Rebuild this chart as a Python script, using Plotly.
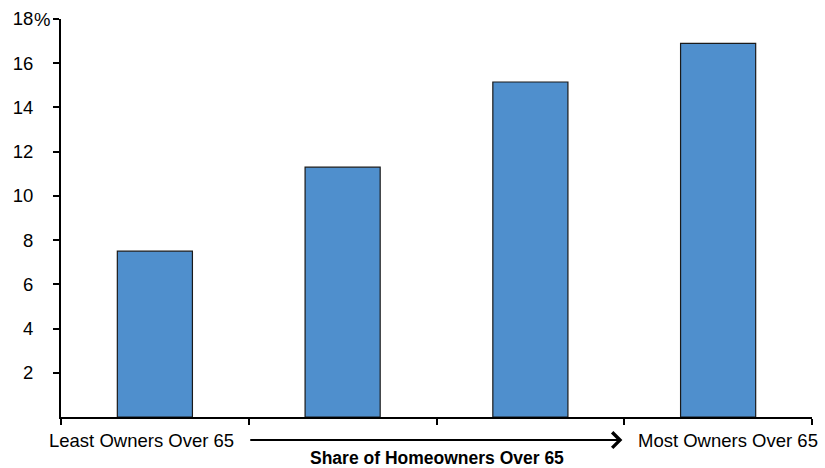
import plotly.graph_objects as go

# Share of homeowners over 65, by quartile (low -> high)
quartiles = [0, 1, 2, 3]
values = [7.5, 11.3, 15.15, 16.9]
y_ticks = [2, 4, 6, 8, 10, 12, 14, 16, 18]
y_tick_text = ["2", "4", "6", "8", "10", "12", "14", "16", "18"]
low_label = "Least Owners Over 65"
high_label = "Most Owners Over 65"
x_title = "Share of Homeowners Over 65"

FONT = "Liberation Sans, Arial, sans-serif"
BAR_COLOR = "#4f8fcd"
LABEL_SIZE = 18.5

fig = go.Figure(
    go.Bar(
        x=quartiles,
        y=values,
        width=0.4,
        marker=dict(color=BAR_COLOR, line=dict(color="#1a1a1a", width=1.2)),
        hoverinfo="y",
    )
)

fig.update_layout(
    width=825,
    height=468,
    margin=dict(l=61, r=13, t=19, b=51),
    paper_bgcolor="white",
    plot_bgcolor="white",
    showlegend=False,
    font=dict(family=FONT, size=LABEL_SIZE, color="black"),
    xaxis=dict(
        range=[-0.5, 3.5],
        tickvals=[-0.5, 0.5, 1.5, 2.5, 3.5],
        ticktext=["", "", "", "", ""],
        ticks="outside",
        ticklen=6,
        tickwidth=2,
        tickcolor="black",
        showline=True,
        linecolor="black",
        linewidth=2,
        showgrid=False,
        zeroline=False,
        automargin=False,
        fixedrange=True,
    ),
    yaxis=dict(
        range=[0, 18],
        tickvals=y_ticks,
        ticktext=y_tick_text,
        ticks="outside",
        ticklen=6,
        tickwidth=2,
        tickcolor="black",
        ticklabelstandoff=16,
        showline=True,
        linecolor="black",
        linewidth=2,
        showgrid=False,
        zeroline=False,
        automargin=False,
        fixedrange=True,
    ),
)

# Percent sign hanging after the top tick value
fig.add_annotation(
    x=0, y=y_ticks[-1], xref="paper", yref="y",
    text="%", showarrow=False, xanchor="left", yanchor="middle",
    xshift=-29, font=dict(size=LABEL_SIZE),
)

# Category end labels and direction arrow under the axis
fig.add_annotation(
    x=0.43, y=-0.058, xref="x", yref="paper",
    text=low_label, showarrow=False, xanchor="right", yanchor="middle",
    font=dict(size=LABEL_SIZE),
)
fig.add_annotation(
    x=2.56, y=-0.058, xref="x", yref="paper",
    text=high_label, showarrow=False, xanchor="left", yanchor="middle",
    font=dict(size=LABEL_SIZE),
)
fig.add_annotation(
    x=2.49, y=-0.058, ax=0.5, ay=0,
    xref="x", yref="paper", axref="x", ayref="pixel",
    text="", showarrow=True, arrowhead=4, arrowsize=1.5, arrowwidth=2,
    arrowcolor="black",
)
fig.add_annotation(
    x=1.5, y=-0.104, xref="x", yref="paper",
    text="<b>" + x_title + "</b>", showarrow=False,
    xanchor="center", yanchor="middle", font=dict(size=17.5),
)

fig.write_html("out.html")
